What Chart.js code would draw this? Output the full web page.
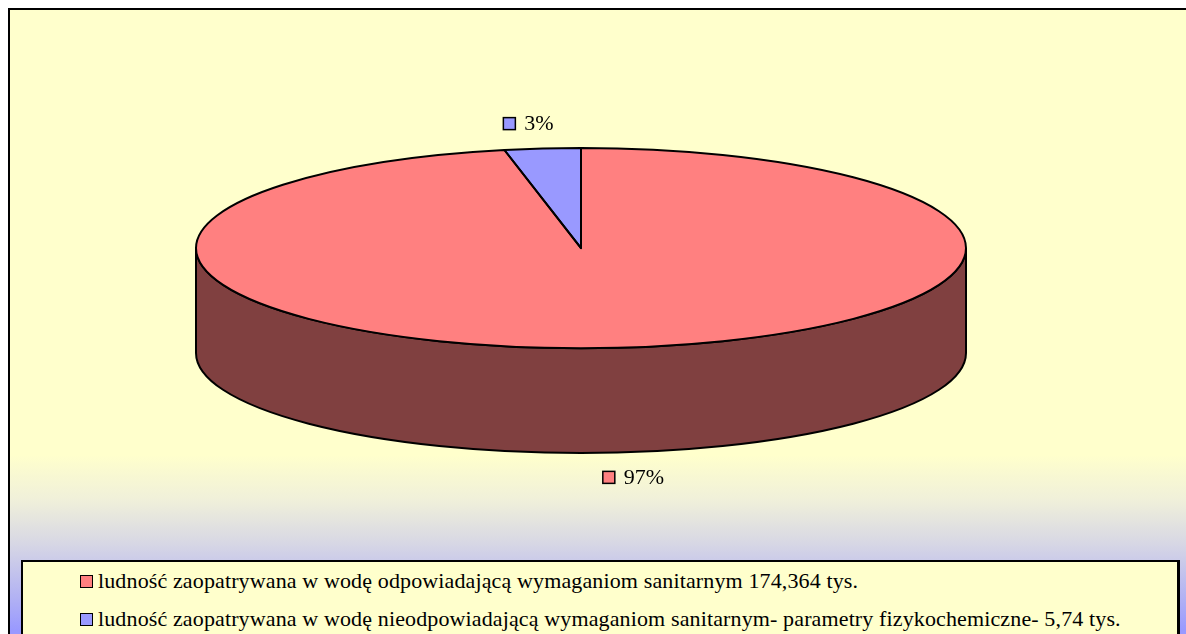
<!DOCTYPE html>
<html>
<head>
<meta charset="utf-8">
<script src="https://cdn.jsdelivr.net/npm/chart.js@4.4.0/dist/chart.umd.min.js"></script>
<style>
    body { margin: 0; width: 1186px; height: 634px; overflow: hidden; background: #fff; position: relative;
           font-family: "Liberation Serif", "DejaVu Serif", serif; }
    #frame { position: absolute; left: 8px; top: 8px; width: 1200px; height: 640px;
             border-top: 2px solid #000; border-left: 2px solid #000;
             background: linear-gradient(to bottom, #FFFFCC 0px, #FFFFCC 445px, #F0F0DA 490px, #D8D8E4 532px, #B0B0F4 590px, #9999FF 620px); }
    #pie { position: absolute; left: 0; top: 0; }
    #legend { position: absolute; left: 21px; top: 560px; width: 1154px; height: 100px;
              border: 2px solid #000; border-right-width: 3px; background: #FFFFCC; }
    .item { position: absolute; left: 57px; white-space: nowrap; font-size: 22px; line-height: 24px;
            letter-spacing: 0.13px; color: #000; }
    .box { display: inline-block; width: 11px; height: 11px; border: 1px solid #000; margin-right: 5px; vertical-align: 0px; }
</style>
</head>
<body>
<div id="frame"></div>
<canvas id="pie" width="1186" height="634"></canvas>
<div id="legend"></div>
<script>
const labels = [
    'ludność zaopatrywana w wodę odpowiadającą wymaganiom sanitarnym 174,364 tys.',
    'ludność zaopatrywana w wodę nieodpowiadającą wymaganiom sanitarnym- parametry fizykochemiczne- 5,74 tys.'
];
const values = [174.364, 5.74];
const percentLabels = ['97%', '3%'];
const topColors = ['#FF8080', '#9999FF'];
const sideColors = ['#804040', '#4D4D80'];

// legend rows (html, built from the same arrays)
const legendEl = document.getElementById('legend');
labels.forEach(function (text, i) {
    let row = document.createElement('div');
    row.className = 'item';
    row.style.top = (7 + i * 38) + 'px';
    let box = document.createElement('span');
    box.className = 'box';
    box.style.background = topColors[i];
    row.appendChild(box);
    row.appendChild(document.createTextNode(text));
    legendEl.appendChild(row);
});

const TILT = 0.26;          // ellipse ry / rx
const LABEL_OUT_X = 140;    // label distance beyond the rim
const LABEL_OUT_Y = 25;

// view of the pie: ellipse fitted to the chart area, rest of the height is the side wall
function pieView(chart) {
    const area = chart.chartArea;
    const rx = area.width / 2;
    const ry = rx * TILT;
    return {
        cx: (area.left + area.right) / 2,
        cy: area.top + ry,
        rx: rx,
        ry: ry,
        depth: area.height - 2 * ry
    };
}

const pie3d = {
    id: 'pie3d',
    beforeDatasetsDraw: function (chart) {
        const ctx = chart.ctx;
        const v = pieView(chart);
        const arcs = chart.getDatasetMeta(0).data;
        // side wall, only the front half (0..PI) is visible
        arcs.forEach(function (arc, i) {
            for (let k = -1; k <= 1; k++) {
                const lo = Math.max(arc.startAngle, 2 * Math.PI * k);
                const hi = Math.min(arc.endAngle, 2 * Math.PI * k + Math.PI);
                if (hi <= lo) continue;
                ctx.save();
                ctx.beginPath();
                ctx.ellipse(v.cx, v.cy, v.rx, v.ry, 0, lo, hi);
                ctx.ellipse(v.cx, v.cy + v.depth, v.rx, v.ry, 0, hi, lo, true);
                ctx.closePath();
                ctx.fillStyle = sideColors[i];
                ctx.fill();
                ctx.lineWidth = 2;
                ctx.strokeStyle = '#000';
                ctx.stroke();
                ctx.restore();
            }
        });
        // squash the library's circle into the top ellipse
        const a = arcs[0];
        ctx.save();
        ctx.translate(v.cx, v.cy);
        ctx.scale(v.rx / a.outerRadius, v.ry / a.outerRadius);
        ctx.translate(-a.x, -a.y);
    },
    afterDatasetsDraw: function (chart) {
        const ctx = chart.ctx;
        ctx.restore();
        const v = pieView(chart);
        const arcs = chart.getDatasetMeta(0).data;
        arcs.forEach(function (arc) {
            ctx.save();
            ctx.beginPath();
            ctx.moveTo(v.cx, v.cy);
            ctx.ellipse(v.cx, v.cy, v.rx, v.ry, 0, arc.startAngle, arc.endAngle);
            ctx.closePath();
            ctx.lineWidth = 2;
            ctx.lineJoin = 'round';
            ctx.strokeStyle = '#000';
            ctx.stroke();
            ctx.restore();
        });
        // percent labels with a small colour key
        ctx.save();
        ctx.font = '22px "Liberation Serif", "DejaVu Serif", serif';
        ctx.textBaseline = 'middle';
        arcs.forEach(function (arc, i) {
            const mid = (arc.startAngle + arc.endAngle) / 2;
            const c = Math.cos(mid), s = Math.sin(mid);
            let x = v.cx + (v.rx + LABEL_OUT_X) * c;
            let y = v.cy + (v.ry + LABEL_OUT_Y) * s;
            if (s > 0) y += v.depth;
            const text = percentLabels[i];
            const w = 13 + 8 + ctx.measureText(text).width;
            const left = x - w / 2;
            ctx.fillStyle = topColors[i];
            ctx.fillRect(left, y - 6, 12, 12);
            ctx.lineWidth = 1.5;
            ctx.strokeStyle = '#000';
            ctx.strokeRect(left, y - 6, 12, 12);
            ctx.fillStyle = '#000';
            ctx.fillText(text, left + 21, y + 1);
        });
        ctx.restore();
    }
};

new Chart(document.getElementById('pie'), {
    type: 'pie',
    data: {
        labels: labels,
        datasets: [{
            data: values,
            backgroundColor: topColors,
            borderWidth: 0
        }]
    },
    options: {
        responsive: false,
        animation: false,
        layout: {
            padding: { left: 196, right: 220, top: 148, bottom: 181 }
        },
        plugins: {
            legend: { display: false },
            tooltip: { enabled: false }
        }
    },
    plugins: [pie3d]
});
</script>
</body>
</html>
